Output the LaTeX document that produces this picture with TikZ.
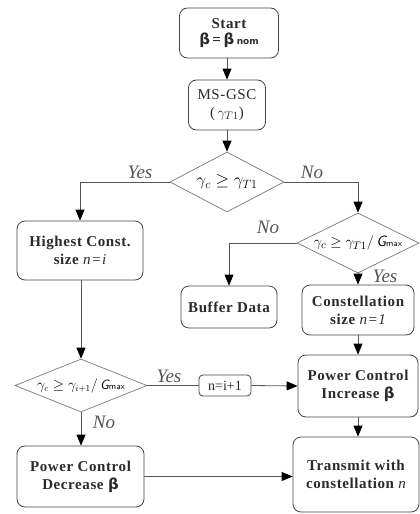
\documentclass[tikz,border=0pt]{standalone}
\usepackage{fontspec}
\setmainfont{Liberation Serif}
\newfontfamily\boxfont{Liberation Serif}[LetterSpace=4]
\newfontfamily\betafont{DejaVu Sans}
\usetikzlibrary{arrows.meta,shapes.geometric}
\definecolor{textgray}{HTML}{2A2A2A}
\definecolor{boxgray}{HTML}{444444}
\definecolor{linegray}{HTML}{555555}
\definecolor{lblgray}{HTML}{555555}
\definecolor{diagray}{HTML}{777777}
\newcommand{\bb}{{\betafont\bfseries β}}
\newcommand{\gmax}{{\sffamily\itshape G}{\sffamily\fontsize{9}{9}\selectfont max}}
\begin{document}
\begin{tikzpicture}[x=1pt,y=-1pt,
  box/.style={draw=boxgray, rounded corners=8pt, line width=0.8pt, align=center,
    text=textgray, font=\boxfont\bfseries\fontsize{15}{18}\selectfont, inner sep=0pt},
  dec/.style={draw=diagray, shape=diamond, inner sep=0pt, line width=0.7pt, text=black},
  conn/.style={draw=linegray, line width=0.8pt},
  arr/.style={conn, -{Triangle[length=11pt,width=9pt,color=black]}},
  lbl/.style={font=\itshape\fontsize{19}{19}\selectfont, text=lblgray}
]
\useasboundingbox (0,0) rectangle (420,514);
% nodes
\node[box, minimum width=99pt, minimum height=50pt] (start) at (229,33)
  {Start\\[-2pt]\bb\,=\,\bb\,{\betafont\bfseries\fontsize{9}{9}\selectfont nom}};
\node[box, minimum width=77pt, minimum height=50pt, font=\boxfont\fontsize{15}{18}\selectfont] (msgsc) at (227,105)
  {MS-GSC\\($\,\gamma_{T1}$)};
\node[dec, minimum width=114pt, minimum height=60pt] (d1) at (227,182)
  {\makebox[0pt]{\fontsize{18}{18}\selectfont$\gamma_{c}\geq\gamma_{T1}$}};
\node[box, minimum width=126pt, minimum height=59pt] (high) at (80,250.5)
  {Highest Const.\\size {\mdseries\itshape n=i}};
\node[dec, minimum width=122pt, minimum height=60pt] (d2) at (358,243)
  {\makebox[0pt]{\fontsize{15}{15}\selectfont$\gamma_{c}\geq\gamma_{T1}/$\,\gmax}};
\node[box, minimum width=96pt, minimum height=42pt] (buffer) at (229,307)
  {Buffer Data};
\node[box, minimum width=112pt, minimum height=50pt] (const) at (358,310)
  {Constellation\\size {\mdseries\itshape n=1}};
\node[box, minimum width=120pt, minimum height=62pt] (pcinc) at (358,386)
  {Power Control\\Increase \bb};
\node[box, minimum width=126pt, minimum height=75pt] (transmit) at (356,474.5)
  {Transmit with\\constellation {\mdseries\itshape n}};
\node[dec, minimum width=132pt, minimum height=53pt] (d3) at (81,385.5)
  {\makebox[0pt]{\fontsize{13.5}{13.5}\selectfont$\gamma_{c}\geq\gamma_{i+1}/$\,\gmax}};
\node[box, rounded corners=4pt, minimum width=52pt, minimum height=21pt,
  font=\fontsize{14}{14}\selectfont] (nbox) at (225,385.5) {n=i+1};
\node[box, minimum width=127pt, minimum height=61pt] (pcdec) at (80.5,476.5)
  {Power Control\\Decrease \bb};
% connectors
\draw[arr] (msgsc.north |- start.south) -- (msgsc.north);
\draw[arr] (msgsc) -- (d1);
\draw[arr] (d1.west) -| (high.north);
\draw[arr] (d1.east) -| (d2.north);
\draw[arr] (d2.west) -| (buffer.north);
\draw[arr] (d2.south) -- (const.north);
\draw[arr] (const) -- (pcinc);
\draw[arr] (pcinc.south) -- (pcinc.south |- transmit.north);
\draw[arr] (high.south -| d3.north) -- (d3.north);
\draw[conn] (d3.east) -- (nbox.west);
\draw[arr] (nbox.east) -- (pcinc.west);
\draw[arr] (d3.south) -- (d3.south |- pcdec.north);
\draw[arr] (pcdec.east) -- (pcdec.east -| transmit.west);
% labels
\node[lbl] (y1) at (140,172) {Yes};
\node[lbl] (n1) at (312,172) {No};
\node[lbl] (n2) at (268,227) {No};
\node[lbl] (y2) at (385,276) {Yes};
\node[lbl] (y3) at (169,376) {Yes};
\node[lbl] (n3) at (104,422) {No};
\end{tikzpicture}
\end{document}
